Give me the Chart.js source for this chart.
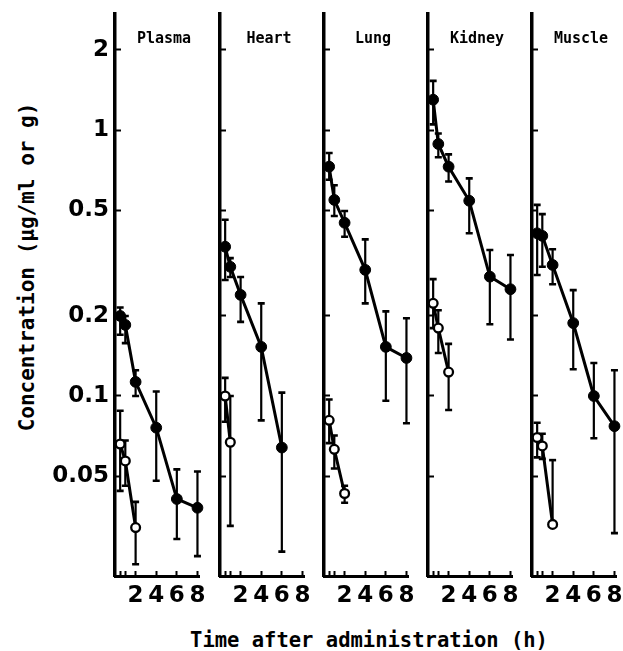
<!DOCTYPE html>
<html>
<head>
<meta charset="utf-8">
<script src="https://cdn.jsdelivr.net/npm/chart.js@4.4.1/dist/chart.umd.min.js"></script>
<style>
  html, body { margin: 0; padding: 0; background: #fff; }
  #wrap { position: relative; width: 623px; height: 651px; overflow: hidden; }
  #wrap canvas { position: absolute; top: 0; }
  .axis-title { position: absolute; font: bold 21px "DejaVu Sans Mono", monospace; color: #000; white-space: nowrap; line-height: 1; }
  #ytitle { left: 27px; top: 267px; transform: translate(-50%, -50%) rotate(-90deg); }
  #xtitle { left: 369px; top: 640px; transform: translate(-50%, -50%); font-size: 20.5px; }
</style>
</head>
<body>
<div id="wrap">
  <div id="ytitle" class="axis-title">Concentration (µg/ml or g)</div>
  <div id="xtitle" class="axis-title">Time after administration (h)</div>
</div>
<script>
// --- values (h, µg/ml or µg/g) ---
const panelNames = ['Plasma', 'Heart', 'Lung', 'Kidney', 'Muscle'];
const sampleTimes = [0.5, 1, 2, 4, 6, 8];
const heartTimes = [0.5, 1, 2, 4, 6];
const openTimes = [0.5, 1, 2];
const heartOpenTimes = [0.5, 1];

const yTickValues = [2, 1, 0.5, 0.2, 0.1, 0.05];
const yTickLabels = ['2', '1', '0.5', '0.2', '0.1', '0.05'];
const xTickValues = [0.5, 1, 2, 4, 6, 8];
const xTickLabels = ['', '', '2', '4', '6', '8'];

// filled circles
const plasmaFilled   = [0.20, 0.185, 0.113, 0.076, 0.041, 0.038];
const plasmaFilledHi = [0.215, 0.20, 0.125, 0.104, 0.053, 0.052];
const plasmaFilledLo = [0.17, 0.158, 0.10, 0.048, 0.029, 0.025];
const heartFilled    = [0.364, 0.306, 0.24, 0.153, 0.064];
const heartFilledHi  = [0.46, 0.33, 0.28, 0.223, 0.103];
const heartFilledLo  = [0.273, 0.28, 0.19, 0.081, 0.026];
const lungFilled     = [0.728, 0.546, 0.448, 0.298, 0.153, 0.139];
const lungFilledHi   = [0.82, 0.62, 0.496, 0.388, 0.208, 0.196];
const lungFilledLo   = [0.65, 0.475, 0.397, 0.223, 0.096, 0.079];
const kidneyFilled   = [1.30, 0.886, 0.728, 0.542, 0.281, 0.252];
const kidneyFilledHi = [1.53, 0.97, 0.81, 0.658, 0.354, 0.339];
const kidneyFilledLo = [1.05, 0.79, 0.64, 0.409, 0.186, 0.163];
const muscleFilled   = [0.409, 0.40, 0.311, 0.188, 0.10, 0.077];
const muscleFilledHi = [0.523, 0.483, 0.356, 0.25, 0.133, 0.125];
const muscleFilledLo = [0.285, 0.306, 0.263, 0.126, 0.0694, 0.0305];

// open circles
const plasmaOpen   = [0.066, 0.057, 0.032];
const plasmaOpenHi = [0.088, 0.068, 0.040];
const plasmaOpenLo = [0.044, 0.046, 0.0233];
const heartOpen    = [0.10, 0.067];
const heartOpenHi  = [0.117, 0.10];
const heartOpenLo  = [0.08, 0.0325];
const lungOpen     = [0.081, 0.063, 0.043];
const lungOpenHi   = [0.097, 0.071, 0.046];
const lungOpenLo   = [0.0665, 0.0534, 0.0397];
const kidneyOpen   = [0.223, 0.18, 0.123];
const kidneyOpenHi = [0.275, 0.21, 0.157];
const kidneyOpenLo = [0.18, 0.145, 0.0886];
const muscleOpen   = [0.0698, 0.0649, 0.0329];
const muscleOpenHi = [0.0793, 0.0721, 0.0574];
const muscleOpenLo = [0.0588, 0.058, 0.0329];

const panels = [
  { filled: [sampleTimes, plasmaFilled, plasmaFilledHi, plasmaFilledLo], open: [openTimes, plasmaOpen, plasmaOpenHi, plasmaOpenLo] },
  { filled: [heartTimes, heartFilled, heartFilledHi, heartFilledLo], open: [heartOpenTimes, heartOpen, heartOpenHi, heartOpenLo] },
  { filled: [sampleTimes, lungFilled, lungFilledHi, lungFilledLo], open: [openTimes, lungOpen, lungOpenHi, lungOpenLo] },
  { filled: [sampleTimes, kidneyFilled, kidneyFilledHi, kidneyFilledLo], open: [openTimes, kidneyOpen, kidneyOpenHi, kidneyOpenLo] },
  { filled: [sampleTimes, muscleFilled, muscleFilledHi, muscleFilledLo], open: [openTimes, muscleOpen, muscleOpenHi, muscleOpenLo] }
];

// layout of the five side-by-side panels
const axisX = [115, 220, 324, 428, 532];
const plotW = 84;
const yMin = 0.02105, yMax = 2.73;

// error bars are drawn under the markers
const errorBarPlugin = {
  id: 'errorBars',
  beforeDatasetsDraw(chart) {
    const { ctx, scales: { x, y } } = chart;
    ctx.save();
    ctx.strokeStyle = '#000';
    chart.data.datasets.forEach(ds => {
      ds.data.forEach((pt, i) => {
        const px = x.getPixelForValue(pt.x);
        const top = y.getPixelForValue(ds.errHi[i]);
        const bot = y.getPixelForValue(ds.errLo[i]);
        ctx.lineWidth = 2.2;
        ctx.beginPath();
        ctx.moveTo(px, top);
        ctx.lineTo(px, bot);
        ctx.stroke();
        ctx.lineWidth = 2.6;
        ctx.beginPath();
        ctx.moveTo(px - 3.5, top); ctx.lineTo(px + 3.5, top);
        if (ds.errLo[i] < pt.y) { ctx.moveTo(px - 3.5, bot); ctx.lineTo(px + 3.5, bot); }
        ctx.stroke();
      });
    });
    ctx.restore();
  }
};

const panelNamePlugin = {
  id: 'panelName',
  afterDraw(chart, args, opts) {
    const { ctx, chartArea } = chart;
    ctx.save();
    ctx.font = 'bold 15px "DejaVu Sans Mono"';
    ctx.fillStyle = '#000';
    ctx.textAlign = 'center';
    ctx.textBaseline = 'middle';
    ctx.fillText(opts.text, chartArea.left + 49, 39);
    ctx.restore();
  }
};

function series(cols, open) {
  const [t, v, hi, lo] = cols;
  return {
    data: t.map((tt, i) => ({ x: tt, y: v[i] })),
    errHi: hi,
    errLo: lo,
    borderColor: '#000',
    borderWidth: 3,
    tension: 0,
    clip: false,
    pointRadius: open ? 4.4 : 5.4,
    pointBorderWidth: open ? 2.3 : 1,
    pointBorderColor: '#000',
    pointBackgroundColor: open ? '#fff' : '#000'
  };
}

panels.forEach((p, k) => {
  const leftW = k === 0 ? axisX[0] : 12;
  const canvas = document.createElement('canvas');
  canvas.width = leftW + plotW + 12;
  canvas.height = 651;
  canvas.style.left = (axisX[k] - leftW) + 'px';
  document.getElementById('wrap').appendChild(canvas);

  new Chart(canvas, {
    type: 'line',
    data: { datasets: [series(p.open, true), series(p.filled, false)] },
    options: {
      responsive: false,
      animation: false,
      layout: { padding: { left: 0, top: 14, right: 12, bottom: 35 } },
      plugins: {
        legend: { display: false },
        tooltip: { enabled: false },
        panelName: { text: panelNames[k] }
      },
      scales: {
        x: {
          type: 'linear',
          min: 0,
          max: 8.15,
          afterBuildTicks: s => { s.ticks = xTickValues.map(v => ({ value: v })); },
          afterFit: s => { s.height = 40; s.paddingLeft = 0; s.paddingRight = 0; },
          border: { color: '#000', width: 3 },
          grid: { drawOnChartArea: false, color: '#000', tickLength: -5, tickWidth: 2 },
          ticks: {
            autoSkip: false,
            maxRotation: 0,
            padding: 11,
            color: '#000',
            font: { family: 'DejaVu Sans', weight: 'bold', size: 23 },
            callback: (v, i) => xTickLabels[i]
          }
        },
        y: {
          type: 'logarithmic',
          min: yMin,
          max: yMax,
          bounds: 'data',
          afterBuildTicks: s => { s.ticks = yTickValues.map(v => ({ value: v })); },
          afterFit: s => { s.width = leftW; s.paddingTop = 0; s.paddingBottom = 0; },
          border: { color: '#000', width: 3.5 },
          grid: { drawOnChartArea: false, color: '#000', tickLength: -6, tickWidth: 2 },
          ticks: {
            display: k === 0,
            padding: 12,
            color: '#000',
            font: { family: 'DejaVu Sans', weight: 'bold', size: 23 },
            callback: (v, i) => yTickLabels[i]
          }
        }
      }
    },
    plugins: [errorBarPlugin, panelNamePlugin]
  });
});
</script>
</body>
</html>
